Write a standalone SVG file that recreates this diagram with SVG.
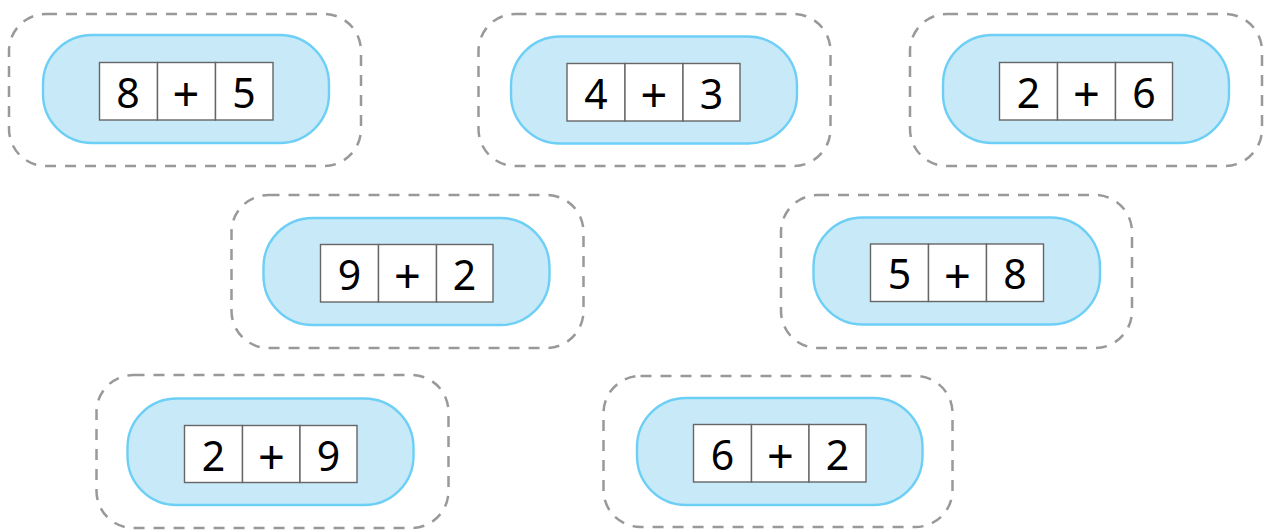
<svg xmlns="http://www.w3.org/2000/svg" width="1274" height="532" viewBox="0 0 1274 532">
<style>
.outer{fill:none;stroke:#999999;stroke-width:2.5;stroke-dasharray:11 9}
.pill{fill:#C7E9F8;stroke:#6DCFF6;stroke-width:2.4}
.cell{fill:#ffffff;stroke:#666666;stroke-width:1.4}
.t{font-family:"Noto Sans","Open Sans","DejaVu Sans",sans-serif;font-size:41px;fill:#000000;text-anchor:middle}
.p{font-size:47px}
</style>
<rect width="1274" height="532" fill="#ffffff"/>
<g id="node-1">
<rect class="outer" x="9" y="14" width="352" height="152" rx="37"/>
<rect class="pill" x="43" y="35" width="286" height="108" rx="49"/>
<rect class="cell" x="99.5" y="62.5" width="58" height="57.5"/>
<rect class="cell" x="157.5" y="62.5" width="58" height="57.5"/>
<rect class="cell" x="215.5" y="62.5" width="57.5" height="57.5"/>
<text class="t" x="128" y="107.5">8</text>
<text class="t p" x="186" y="111">+</text>
<text class="t" x="244" y="107.5">5</text>
</g>
<g id="node-2">
<rect class="outer" x="478.5" y="14" width="352" height="152" rx="37"/>
<rect class="pill" x="511" y="36.5" width="286" height="107" rx="49"/>
<rect class="cell" x="567" y="63.5" width="58" height="57.5"/>
<rect class="cell" x="625" y="63.5" width="58" height="57.5"/>
<rect class="cell" x="683" y="63.5" width="57" height="57.5"/>
<text class="t" x="596" y="108.5">4</text>
<text class="t p" x="654" y="112">+</text>
<text class="t" x="711.5" y="108.5">3</text>
</g>
<g id="node-3">
<rect class="outer" x="910" y="14" width="352" height="152" rx="37"/>
<rect class="pill" x="943" y="35" width="286" height="108" rx="49"/>
<rect class="cell" x="999.5" y="62.5" width="58" height="57.5"/>
<rect class="cell" x="1057.5" y="62.5" width="58" height="57.5"/>
<rect class="cell" x="1115.5" y="62.5" width="57" height="57.5"/>
<text class="t" x="1028.5" y="107.5">2</text>
<text class="t p" x="1086.5" y="111">+</text>
<text class="t" x="1144" y="107.5">6</text>
</g>
<g id="node-4">
<rect class="outer" x="231.5" y="195" width="352" height="153" rx="37"/>
<rect class="pill" x="263.5" y="218" width="286" height="107" rx="49"/>
<rect class="cell" x="320.5" y="244.5" width="58" height="57.5"/>
<rect class="cell" x="378.5" y="244.5" width="58" height="57.5"/>
<rect class="cell" x="436.5" y="244.5" width="56.5" height="57.5"/>
<text class="t" x="349.5" y="289.5">9</text>
<text class="t p" x="407.5" y="293">+</text>
<text class="t" x="464.5" y="289.5">2</text>
</g>
<g id="node-5">
<rect class="outer" x="781" y="195" width="351" height="153" rx="37"/>
<rect class="pill" x="813.5" y="217.5" width="286.5" height="107" rx="49"/>
<rect class="cell" x="870.5" y="244" width="58" height="57.5"/>
<rect class="cell" x="928.5" y="244" width="58" height="57.5"/>
<rect class="cell" x="986.5" y="244" width="57" height="57.5"/>
<text class="t" x="899.5" y="289">5</text>
<text class="t p" x="957.5" y="292.5">+</text>
<text class="t" x="1015" y="289">8</text>
</g>
<g id="node-6">
<rect class="outer" x="96.5" y="375" width="352" height="153" rx="37"/>
<rect class="pill" x="127.5" y="398.5" width="286" height="106.5" rx="49"/>
<rect class="cell" x="184.5" y="425.5" width="58" height="57"/>
<rect class="cell" x="242.5" y="425.5" width="57.5" height="57"/>
<rect class="cell" x="300" y="425.5" width="57" height="57"/>
<text class="t" x="213.5" y="470.5">2</text>
<text class="t p" x="271.5" y="474">+</text>
<text class="t" x="328.5" y="470.5">9</text>
</g>
<g id="node-7">
<rect class="outer" x="603.5" y="376" width="349" height="151" rx="37"/>
<rect class="pill" x="637" y="398" width="285.5" height="107" rx="49"/>
<rect class="cell" x="693.5" y="424.5" width="58" height="57.5"/>
<rect class="cell" x="751.5" y="424.5" width="57.5" height="57.5"/>
<rect class="cell" x="809" y="424.5" width="57" height="57.5"/>
<text class="t" x="722.5" y="469.5">6</text>
<text class="t p" x="780.5" y="473">+</text>
<text class="t" x="837.5" y="469.5">2</text>
</g>
<g id="connectors"></g>
</svg>
